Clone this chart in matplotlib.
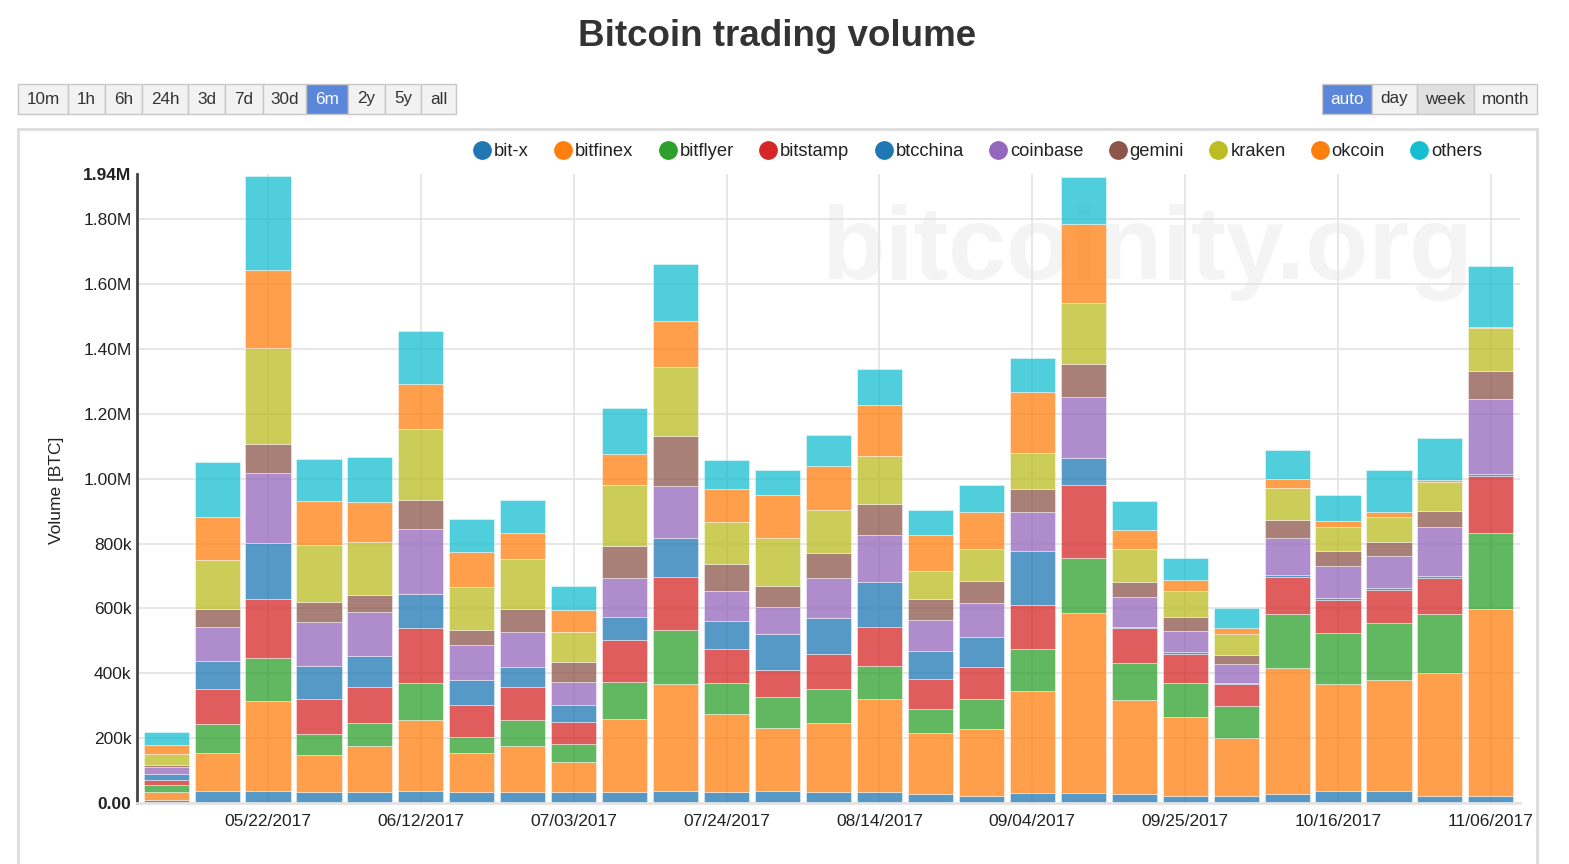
import numpy as np
import pandas as pd
import matplotlib
matplotlib.use("Agg")
import matplotlib.pyplot as plt
from matplotlib.lines import Line2D
from matplotlib.patches import FancyBboxPatch, Rectangle

plt.rcParams['font.family'] = ['Liberation Sans', 'DejaVu Sans']

# weekly volume per exchange, thousands of BTC
weeks = pd.date_range('2017-05-08', periods=27, freq='7D')
exchanges = ['bit-x', 'bitfinex', 'bitflyer', 'bitstamp', 'btcchina',
             'coinbase', 'gemini', 'kraken', 'okcoin', 'others']
bit_x = [9, 36, 37, 34, 34, 37, 34, 34, 34, 34, 36, 34, 36, 34, 34, 27, 23, 31, 32, 28, 22, 22, 29, 36, 36, 22, 22]
bitfinex = [25, 117, 278, 114, 143, 219, 119, 143, 92, 225, 332, 241, 195, 214, 287, 189, 204, 314, 555, 289, 243, 179, 388, 332, 342, 378, 577]
bitflyer = [20, 92, 132, 65, 70, 113, 51, 79, 57, 113, 166, 95, 96, 103, 101, 73, 94, 129, 168, 114, 104, 97, 165, 156, 177, 182, 234]
bitstamp = [17, 107, 181, 107, 111, 170, 97, 102, 66, 130, 163, 106, 82, 108, 122, 92, 97, 137, 226, 108, 92, 68, 114, 101, 102, 112, 176]
btcchina = [17, 85, 173, 102, 94, 106, 77, 61, 52, 72, 121, 84, 113, 113, 139, 89, 93, 166, 83, 5, 5, 3, 6, 6, 5, 5, 5]
coinbase = [22, 107, 216, 135, 138, 201, 109, 108, 71, 119, 160, 95, 84, 122, 145, 93, 107, 120, 187, 92, 66, 59, 115, 99, 99, 152, 232]
gemini = [7, 55, 90, 62, 53, 87, 48, 72, 64, 100, 154, 82, 62, 78, 94, 66, 67, 71, 103, 47, 41, 29, 56, 48, 45, 50, 85]
kraken = [35, 150, 297, 178, 161, 221, 131, 153, 92, 188, 212, 131, 148, 133, 148, 88, 97, 111, 189, 100, 82, 65, 100, 74, 77, 89, 133]
okcoin = [26, 134, 241, 133, 123, 139, 107, 82, 66, 96, 144, 101, 135, 133, 159, 111, 114, 190, 243, 58, 32, 18, 26, 19, 16, 5, 4]
others = [42, 169, 290, 132, 141, 162, 102, 102, 76, 142, 173, 90, 76, 98, 111, 75, 85, 102, 146, 89, 70, 61, 89, 79, 129, 130, 187]
series = [bit_x, bitfinex, bitflyer, bitstamp, btcchina, coinbase, gemini, kraken, okcoin, others]

colors = ['#1f77b4', '#ff7f0e', '#2ca02c', '#d62728', '#1f77b4',
          '#9467bd', '#8c564b', '#bcbd22', '#ff7f0e', '#17becf']

date_ticks = ['2017-05-22', '2017-06-12', '2017-07-03', '2017-07-24', '2017-08-14',
              '2017-09-04', '2017-09-25', '2017-10-16', '2017-11-06']
date_labels = ['05/22/2017', '06/12/2017', '07/03/2017', '07/24/2017', '08/14/2017',
               '09/04/2017', '09/25/2017', '10/16/2017', '11/06/2017']
y_ticks = [0, 200e3, 400e3, 600e3, 800e3, 1.0e6, 1.2e6, 1.4e6, 1.6e6, 1.8e6, 1.94e6]
y_labels = ['0.00', '200k', '400k', '600k', '800k', '1.00M', '1.20M', '1.40M', '1.60M', '1.80M', '1.94M']

range_buttons = ['10m', '1h', '6h', '24h', '3d', '7d', '30d', '6m', '2y', '5y', 'all']
range_edges = [18, 68, 105, 142, 188, 225, 263, 306, 348, 385, 421, 456]
group_buttons = ['auto', 'day', 'week', 'month']
group_edges = [1322, 1372, 1417, 1474, 1537]

W, H = 1569, 864
fig = plt.figure(figsize=(W / 100, H / 100), dpi=100)


def fx(px):
    return px / W


def fy(py):
    return 1 - py / H


# panel border
fig.patches.append(Rectangle((fx(18), fy(900)), fx(1537) - fx(18), fy(129) - fy(900),
                             transform=fig.transFigure, fill=False, edgecolor='#dddddd', lw=2))


def draw_buttons(labels, edges, active, pressed=()):
    for i, lab in enumerate(labels):
        x0, x1 = edges[i], edges[i + 1]
        if lab in active:
            fc, tc = '#5b87da', 'white'
        elif lab in pressed:
            fc, tc = '#e0e0e0', '#333333'
        else:
            fc, tc = '#f2f2f2', '#333333'
        fig.patches.append(FancyBboxPatch((fx(x0), fy(114)), fx(x1) - fx(x0), fy(84) - fy(114),
                                          boxstyle='square,pad=0', transform=fig.transFigure,
                                          facecolor=fc, edgecolor='#c8c8c8', lw=1))
        fig.text(fx((x0 + x1) / 2), fy(99), lab, ha='center', va='center',
                 fontsize=12.3, color=tc)


draw_buttons(range_buttons, range_edges, active=('6m',))
draw_buttons(group_buttons, group_edges, active=('auto',), pressed=('week',))

fig.text(fx(777), fy(37), 'Bitcoin trading volume', ha='center', va='center',
         fontsize=26.5, fontweight='bold', color='#333333')

ax = fig.add_axes([fx(137), fy(803), fx(1520) - fx(137), fy(174) - fy(803)])

# watermark
ax.text(0.495, 0.875, 'bitcoinity.org', transform=ax.transAxes, ha='left', va='center',
        fontsize=75, fontweight='bold', color='#f4f4f4', zorder=0.5)

bottom = np.zeros(len(weeks))
for name, vals, c in zip(exchanges, series, colors):
    v = np.array(vals) * 1000.0
    ax.bar(weeks, v, width=6.2, bottom=bottom, color=c, alpha=0.75,
           edgecolor='white', linewidth=0.4, zorder=2)
    bottom += v

ax.set_ylim(0, 1.94e6)
ax.set_xlim(weeks[0] - pd.Timedelta(days=4.0), weeks[-1] + pd.Timedelta(days=4.0))
ax.set_yticks(y_ticks)
ax.set_yticklabels(y_labels)
ax.set_xticks(pd.to_datetime(date_ticks))
ax.set_xticklabels(date_labels)
for i in (0, len(y_labels) - 1):
    ax.get_yticklabels()[i].set_fontweight('bold')
    ax.get_yticklabels()[i].set_color('black')

ax.grid(True, color='#e3e3e3', lw=1.2, zorder=0)
ax.set_axisbelow(True)
ax.get_ygridlines()[-1].set_visible(False)
ax.get_ygridlines()[0].set_visible(False)

ax.tick_params(axis='both', length=0, labelsize=12.5, colors='#222222')
ax.tick_params(axis='y', pad=4)
ax.tick_params(axis='x', pad=8)
for s in ('top', 'right'):
    ax.spines[s].set_visible(False)
ax.spines['left'].set_color('#444444')
ax.spines['left'].set_linewidth(2)
ax.spines['bottom'].set_color('#e3e3e3')
ax.spines['bottom'].set_linewidth(2)

fig.text(fx(57), fy(490), 'Volume [BTC]', rotation=90, ha='center', va='center',
         fontsize=12.5, color='#222222')

handles = [Line2D([], [], ls='', marker='o', markersize=12.5, color=c) for c in colors]
fig.legend(handles, exchanges, loc='center', bbox_to_anchor=(fx(978), fy(152)), ncol=10,
           frameon=False, fontsize=13.2, handlelength=0.9, handletextpad=0.2,
           columnspacing=1.42, labelcolor='#222222')

fig.savefig('out.png', dpi=100)
